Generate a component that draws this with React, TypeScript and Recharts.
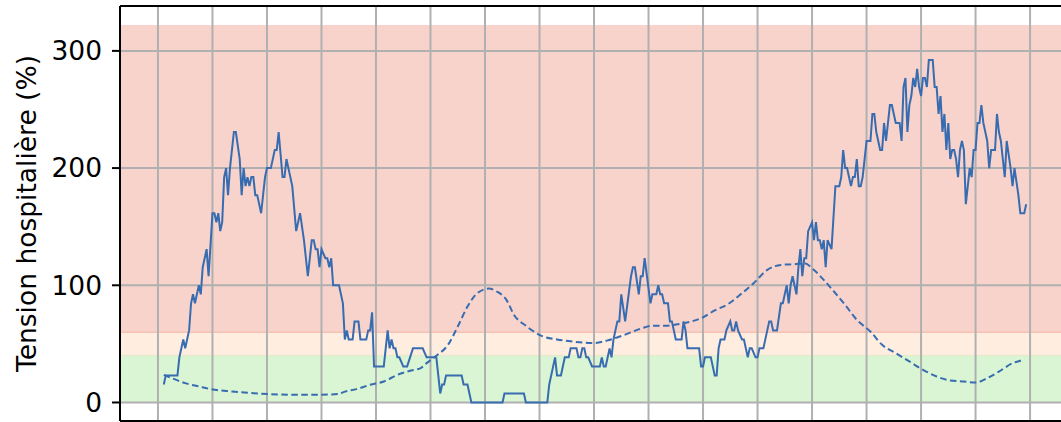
import React from "react";
import {
  LineChart,
  Line,
  XAxis,
  YAxis,
  ReferenceArea,
  ReferenceLine,
} from "recharts";

// ─── Data (x = day index, y = % tension) ──────────────────────────
const solidDays = [
  3, 4, 10, 11, 13, 14, 16, 17, 18, 19, 21, 22, 23, 25, 26, 28, 29, 30, 31, 32,
  33, 34, 35, 36, 37, 39, 40, 42, 43, 44, 45, 46, 47, 48, 49, 50, 51, 53, 55, 56,
  58, 60, 61, 62, 64, 65, 66, 69, 71, 73, 75, 77, 79, 80, 81, 82, 83, 84, 86, 87,
  88, 89, 90, 93, 95, 96, 97, 98, 100, 101, 103, 104, 107, 108, 109, 110, 111, 116, 118, 119,
  120, 121, 122, 123, 124, 126, 128, 131, 136, 138, 143, 145, 146, 147, 148, 156, 157, 159, 161, 177,
  178, 188, 189, 200, 201, 204, 205, 207, 209, 211, 212, 215, 216, 217, 218, 219, 220, 221, 223, 227,
  228, 229, 230, 232, 233, 234, 236, 237, 238, 240, 243, 244, 245, 247, 248, 249, 250, 253, 254, 256,
  257, 258, 259, 260, 262, 263, 264, 266, 269, 270, 271, 272, 278, 279, 280, 281, 284, 286, 287, 288,
  289, 291, 292, 294, 295, 296, 297, 298, 300, 301, 303, 304, 305, 307, 308, 309, 311, 314, 315, 316,
  318, 320, 321, 323, 324, 325, 326, 328, 329, 330, 331, 332, 333, 334, 336, 337, 338, 339, 340, 341,
  342, 343, 344, 346, 348, 350, 351, 352, 353, 354, 356, 357, 358, 359, 360, 361, 362, 364, 366, 367,
  368, 369, 371, 372, 373, 374, 376, 377, 379, 381, 382, 383, 384, 385, 386, 387, 388, 389, 390, 391,
  392, 393, 394, 395, 396, 398, 399, 400, 401, 402, 403, 404, 405, 406, 407, 408, 409, 410, 411, 412,
  413, 414, 415, 416, 417, 418, 419, 420, 421, 422, 423, 424, 426, 427, 428, 430, 431, 432, 433, 435,
  436, 438, 439, 440, 442, 443, 445, 446,
];
const solidValues = [
  15.4, 23.1, 23.1, 38.5, 53.8, 46.2, 61.5, 84.6, 92.3, 84.6, 100, 92.3, 115.4, 130.8, 107.7, 161.5, 161.5, 153.8, 161.5, 146.2,
  153.8, 192.3, 200, 176.9, 200, 230.8, 230.8, 207.7, 176.9, 200, 184.6, 192.3, 184.6, 192.3, 192.3, 176.9, 176.9, 161.5, 192.3, 200,
  200, 215.4, 215.4, 230.8, 192.3, 192.3, 207.7, 184.6, 146.2, 161.5, 138.5, 107.7, 138.5, 138.5, 130.8, 130.8, 115.4, 130.8, 123.1, 123.1,
  115.4, 123.1, 100, 100, 84.6, 53.8, 61.5, 53.8, 53.8, 69.2, 69.2, 53.8, 53.8, 61.5, 61.5, 76.9, 30.8, 30.8, 61.5, 46.2,
  53.8, 46.2, 46.2, 38.5, 38.5, 30.8, 30.8, 46.2, 46.2, 38.5, 38.5, 7.7, 15.4, 15.4, 23.1, 23.1, 15.4, 15.4, 0, 0,
  7.7, 7.7, 0, 0, 15.4, 38.5, 23.1, 23.1, 38.5, 38.5, 46.2, 46.2, 38.5, 38.5, 46.2, 46.2, 38.5, 38.5, 30.8, 30.8,
  38.5, 30.8, 30.8, 46.2, 38.5, 53.8, 69.2, 69.2, 92.3, 69.2, 107.7, 115.4, 115.4, 92.3, 107.7, 107.7, 123.1, 84.6, 92.3, 92.3,
  100, 92.3, 92.3, 84.6, 84.6, 69.2, 69.2, 53.8, 53.8, 69.2, 61.5, 46.2, 46.2, 30.8, 30.8, 38.5, 38.5, 23.1, 23.1, 46.2,
  53.8, 53.8, 61.5, 69.2, 61.5, 61.5, 69.2, 61.5, 53.8, 53.8, 38.5, 46.2, 46.2, 38.5, 38.5, 46.2, 46.2, 69.2, 69.2, 61.5,
  61.5, 84.6, 84.6, 100, 84.6, 100, 107.7, 92.3, 115.4, 130.8, 107.7, 123.1, 123.1, 146.2, 153.8, 138.5, 153.8, 138.5, 138.5, 130.8,
  138.5, 115.4, 138.5, 130.8, 184.6, 184.6, 192.3, 215.4, 200, 200, 184.6, 192.3, 192.3, 207.7, 184.6, 184.6, 192.3, 223.1, 223.1, 246.2,
  246.2, 230.8, 215.4, 215.4, 238.5, 223.1, 253.8, 253.8, 238.5, 238.5, 223.1, 269.2, 276.9, 230.8, 253.8, 261.5, 276.9, 269.2, 284.6, 269.2,
  261.5, 276.9, 276.9, 269.2, 292.3, 292.3, 269.2, 269.2, 246.2, 261.5, 230.8, 246.2, 215.4, 238.5, 207.7, 215.4, 215.4, 207.7, 192.3, 215.4,
  223.1, 215.4, 169.2, 184.6, 200, 192.3, 215.4, 215.4, 238.5, 238.5, 253.8, 238.5, 223.1, 200, 215.4, 215.4, 246.2, 230.8, 223.1, 192.3,
  223.1, 200, 184.6, 200, 176.9, 161.5, 161.5, 169.2,
];

const dashedDays = [
  3, 7, 14, 21, 27, 38, 48, 57, 69, 82, 93, 95, 102, 109, 116, 123, 130, 135, 138, 143,
  149, 154, 159, 164, 170, 174, 179, 183, 189, 197, 205, 213, 224, 231, 239, 248, 254, 261, 266, 271,
  279, 286, 293, 300, 306, 313, 320, 327, 332, 337, 342, 348, 353, 359, 366, 372, 379, 386, 393, 400,
  407, 414, 420, 426, 432, 439, 444, 445,
];
const dashedValues = [
  23.6, 20.8, 16.5, 13.7, 11.4, 9.4, 8.0, 7.2, 6.6, 6.6, 7.2, 8.6, 11.4, 15.1, 17.9, 23.6, 27.3, 29.3, 33.6, 39.9,
  49.2, 64.8, 81.8, 93.2, 97.2, 94.7, 87.6, 74.5, 65.5, 56.9, 53.8, 52.0, 50.7, 53.0, 57.3, 63.0, 65.5, 65.5, 66.5, 68.0,
  71.9, 78.5, 84.1, 93.2, 101.8, 113.1, 117.4, 118.0, 118.8, 113.1, 104.6, 93.2, 83.3, 70.5, 60.5, 49.2, 42.1, 35.0, 27.9, 22.2,
  18.8, 17.9, 17.0, 20.7, 26.4, 33.5, 36.3, 37.0,
];

const yTicks = [0, 100, 200, 300];
const xGridDays = [0, 28, 56, 84, 112, 140, 168, 196, 224, 252, 280, 308, 336, 364, 392, 420, 448];

// alert bands: [from, to, fill]
const bands: [number, number, string][] = [
  [0, 40, "#d9f5d4"],
  [40, 60, "#ffede0"],
  [60, 322, "#f8d3cc"],
];

const solidData = solidDays.map((d, i) => ({ day: d, v: solidValues[i] }));
const dashedData = dashedDays.map((d, i) => ({ day: d, v: dashedValues[i] }));

const BLUE = "#386cb0";
const GRID = "#b0b0b0";
const Y_DOMAIN: [number, number] = [-15.8, 338.3];
const FONT = "DejaVu Sans, sans-serif";

export default function App() {
  return (
    <div
      style={{
        position: "fixed",
        left: 0,
        top: 0,
        width: 1061,
        height: 422,
        overflow: "hidden",
        background: "#fff",
      }}
    >
      <LineChart width={1100} height={460} margin={{ top: 6, right: 31, left: 0, bottom: 0 }}>
        {bands.map(([a, b, c]) => (
          <ReferenceArea key={a} y1={a} y2={b} fill={c} fillOpacity={1} stroke="none" ifOverflow="hidden" />
        ))}
        <ReferenceLine y={60} stroke="#f6c2b4" strokeWidth={1.5} />
        <ReferenceLine y={40} stroke="#e8ebcb" strokeWidth={1.5} />
        {/* grid drawn as reference lines so it sits above the bands */}
        {xGridDays.map((d) => (
          <ReferenceLine key={"x" + d} x={d} stroke={GRID} strokeWidth={2} />
        ))}
        {yTicks.map((t) => (
          <ReferenceLine key={"y" + t} y={t} stroke={GRID} strokeWidth={2} />
        ))}
        <XAxis
          dataKey="day"
          type="number"
          domain={[-19.5, 468]}
          allowDataOverflow
          ticks={xGridDays}
          tick={false}
          tickLine={false}
          height={39}
          axisLine={{ stroke: "#000", strokeWidth: 2 }}
        />
        <YAxis
          type="number"
          domain={Y_DOMAIN}
          allowDataOverflow
          ticks={yTicks}
          width={120}
          tickSize={8}
          tickMargin={10}
          tickLine={{ stroke: "#000", strokeWidth: 2 }}
          axisLine={{ stroke: "#000", strokeWidth: 2 }}
          tick={{ fill: "#000", fontSize: 26.5, fontFamily: FONT }}
          label={{
            content: () => (
              <text
                x={36}
                y={213.5}
                transform="rotate(-90 36 213.5)"
                textAnchor="middle"
                fontSize={26.5}
                fontFamily={FONT}
                fill="#000"
              >
                Tension hospitalière (%)
              </text>
            ),
          }}
        />
        <ReferenceLine y={Y_DOMAIN[1]} stroke="#000" strokeWidth={2} />
        <Line
          data={dashedData}
          dataKey="v"
          type="monotone"
          stroke={BLUE}
          strokeWidth={2}
          strokeDasharray="6.5 3.5"
          dot={false}
          isAnimationActive={false}
        />
        <Line
          data={solidData}
          dataKey="v"
          type="linear"
          stroke={BLUE}
          strokeWidth={2}
          dot={false}
          isAnimationActive={false}
        />
      </LineChart>
    </div>
  );
}
